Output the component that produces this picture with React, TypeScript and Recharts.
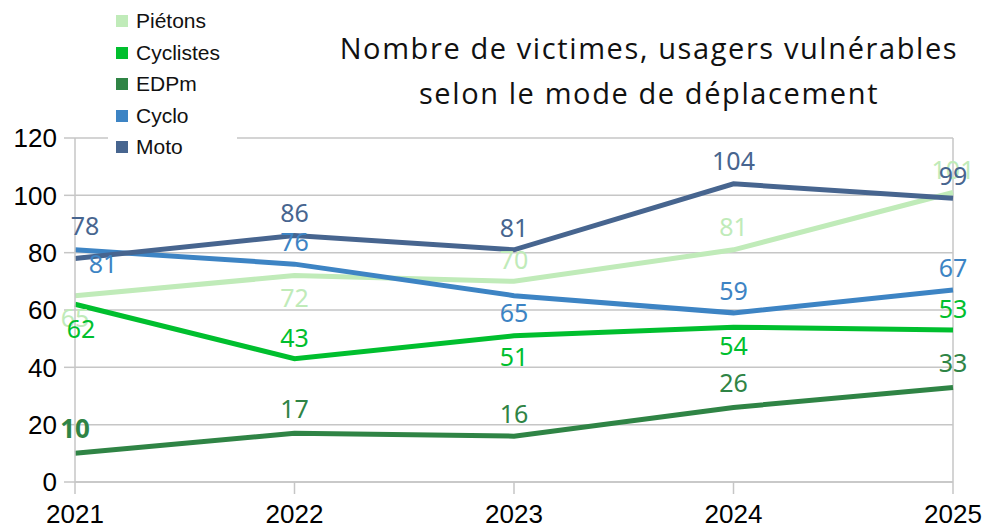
import { LineChart, Line, XAxis, YAxis, CartesianGrid, ReferenceLine, LabelList } from 'recharts'

const years = ['2021', '2022', '2023', '2024', '2025']
const pietons = [65, 72, 70, 81, 101]
const cyclistes = [62, 43, 51, 54, 53]
const edpm = [10, 17, 16, 26, 33]
const cyclo = [81, 76, 65, 59, 67]
const moto = [78, 86, 81, 104, 99]
const yTicks = [0, 20, 40, 60, 80, 100, 120]

const series = [
  { key: 'pietons', name: 'Piétons', values: pietons, color: '#c0ebb9' },
  { key: 'cyclistes', name: 'Cyclistes', values: cyclistes, color: '#00bf2e' },
  { key: 'edpm', name: 'EDPm', values: edpm, color: '#2f8445' },
  { key: 'cyclo', name: 'Cyclo', values: cyclo, color: '#3d84c4' },
  { key: 'moto', name: 'Moto', values: moto, color: '#47658f' },
]

// label placement around each point (layout only)
const labelDy: Record<string, number[]> = {
  pietons: [21, 21, -22, -24, -23],
  cyclistes: [24, -22, 20, 18, -22],
  edpm: [-25, -25, -23, -25, -25],
  cyclo: [13, -23, 16, -23, -23],
  moto: [-33, -23, -23, -24, -23],
}
const labelDx: Record<string, number[]> = {
  pietons: [0, 0, 0, 0, 0],
  cyclistes: [6, 0, 0, 0, 0],
  edpm: [0, 0, 0, 0, 0],
  cyclo: [28, 0, 0, 0, 0],
  moto: [10, 0, 0, 0, 0],
}

const data = years.map((year, i) => {
  const row: Record<string, string | number> = { year }
  series.forEach(s => { row[s.key] = s.values[i] })
  return row
})

const gridColor = '#c6c6c6'
const labelFont = '"Noto Sans", sans-serif'
const axisFont = '"Liberation Sans", Arial, sans-serif'

function makeLabel(key: string, color: string) {
  return (props: any) => {
    const { x, y, value, index } = props
    const bold = key === 'edpm' && index === 0
    return (
      <text
        x={x + labelDx[key][index]}
        y={y + labelDy[key][index]}
        textAnchor="middle"
        dominantBaseline="central"
        fill={color}
        fontSize={bold ? 26 : 25}
        fontWeight={bold ? 700 : 400}
        fontFamily={labelFont}
      >
        {value}
      </text>
    )
  }
}

export default function App() {
  return (
    <div style={{ position: 'absolute', left: 0, top: 0, width: 986, height: 528, background: '#fff', overflow: 'hidden' }}>
      <LineChart
        width={986}
        height={528}
        data={data}
        margin={{ top: 138, right: 33, bottom: 0, left: 0 }}
      >
        <CartesianGrid horizontal vertical={false} stroke={gridColor} strokeWidth={1.5} />
        <XAxis
          dataKey="year"
          height={46}
          tickSize={12}
          tickMargin={11}
          stroke={gridColor}
          strokeWidth={1.5}
          tick={{ fill: '#000', fontSize: 26, fontFamily: axisFont }}
          interval={0}
        />
        <YAxis
          width={75}
          domain={[0, 120]}
          ticks={yTicks}
          tickSize={11}
          tickMargin={7}
          stroke={gridColor}
          strokeWidth={1.5}
          tick={{ fill: '#000', fontSize: 26, fontFamily: axisFont }}
        />
        <ReferenceLine x="2025" stroke={gridColor} strokeWidth={1.5} />
        {series.map(s => (
          <Line
            key={s.key}
            dataKey={s.key}
            name={s.name}
            stroke={s.color}
            strokeWidth={5}
            dot={false}
            activeDot={false}
            isAnimationActive={false}
          >
            <LabelList dataKey={s.key} content={makeLabel(s.key, s.color)} />
          </Line>
        ))}
      </LineChart>
      <div
        style={{
          position: 'absolute',
          left: 108,
          top: 0,
          width: 129,
          height: 162,
          background: '#fff',
          fontFamily: axisFont,
          fontSize: 21,
          color: '#111',
        }}
      >
        {series.map((s, i) => (
          <div
            key={s.key}
            style={{ position: 'absolute', left: 8, top: 21 + i * 31.5 - 12, height: 24, display: 'flex', alignItems: 'center', whiteSpace: 'nowrap' }}
          >
            <span style={{ display: 'inline-block', width: 12, height: 12, background: s.color, marginRight: 8 }} />
            <span>{s.name}</span>
          </div>
        ))}
      </div>
      <div
        style={{
          position: 'absolute',
          left: 299,
          top: 25,
          width: 700,
          textAlign: 'center',
          fontFamily: '"Open Sans", sans-serif',
          fontSize: 29,
          letterSpacing: 1.6,
          lineHeight: '45px',
          color: '#111',
        }}
      >
        Nombre de victimes, usagers vulnérables
        <br />
        selon le mode de déplacement
      </div>
    </div>
  )
}
